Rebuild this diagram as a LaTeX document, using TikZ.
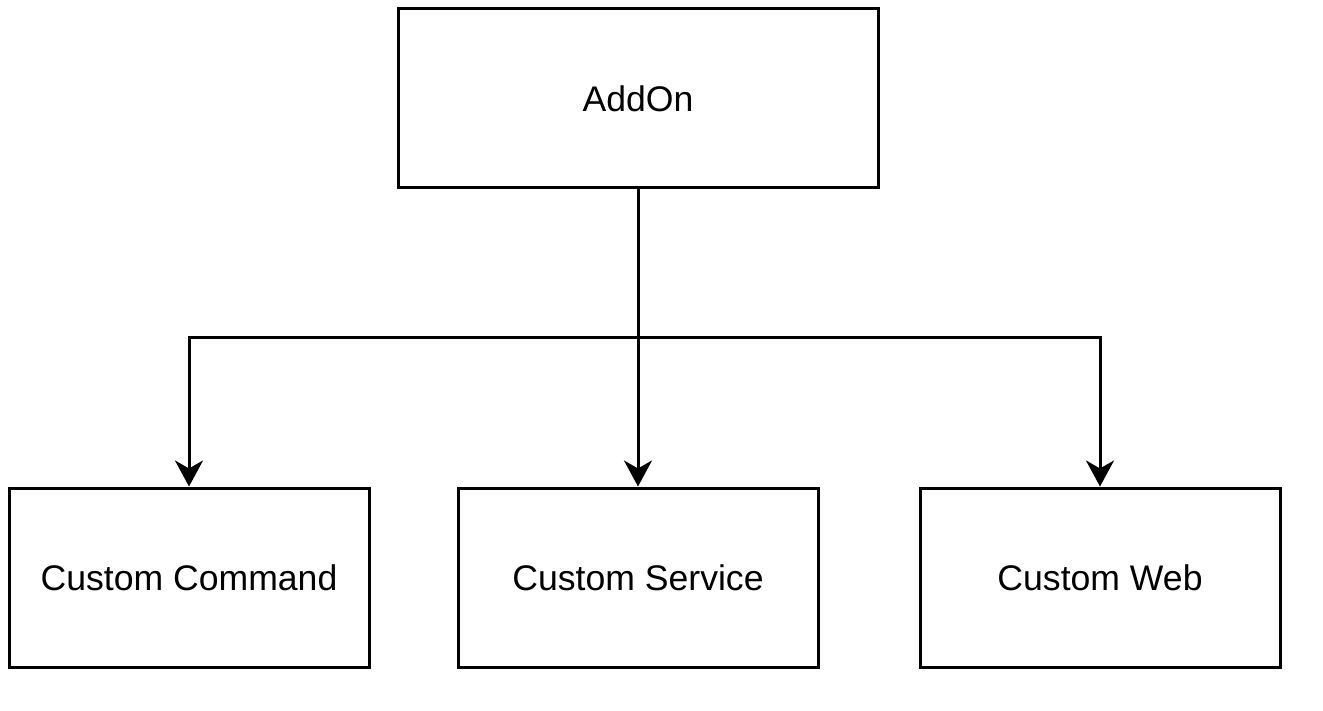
\documentclass[tikz,border=0pt]{standalone}
\usepackage{fontspec}
\setmainfont{Liberation Sans}
\usetikzlibrary{arrows.meta}
\begin{document}
\begin{tikzpicture}[x=1pt,y=-1pt,
  box/.style={draw,line width=3pt,minimum width=480pt,minimum height=179pt,inner sep=0pt,font=\fontsize{35.6}{40}\selectfont},
  sbox/.style={box,minimum width=360pt},
  conn/.style={line width=3pt,-{Stealth[length=26pt,width=28pt,inset=8pt]}}]
\useasboundingbox (0,0) rectangle (1323,711);
\node[box] (addon) at (638,98.5) {AddOn};
\node[sbox] (cmd) at (189,577.5) {Custom Command};
\node[sbox] (svc) at (638,577.5) {Custom Service};
\node[sbox] (web) at (1100,577.5) {Custom Web};
\coordinate (j) at (638,338);
\draw[conn] (addon.south) -- (svc.north);
\draw[conn] (j) -| (cmd.north);
\draw[conn] (j) -| (web.north);
\end{tikzpicture}
\end{document}
